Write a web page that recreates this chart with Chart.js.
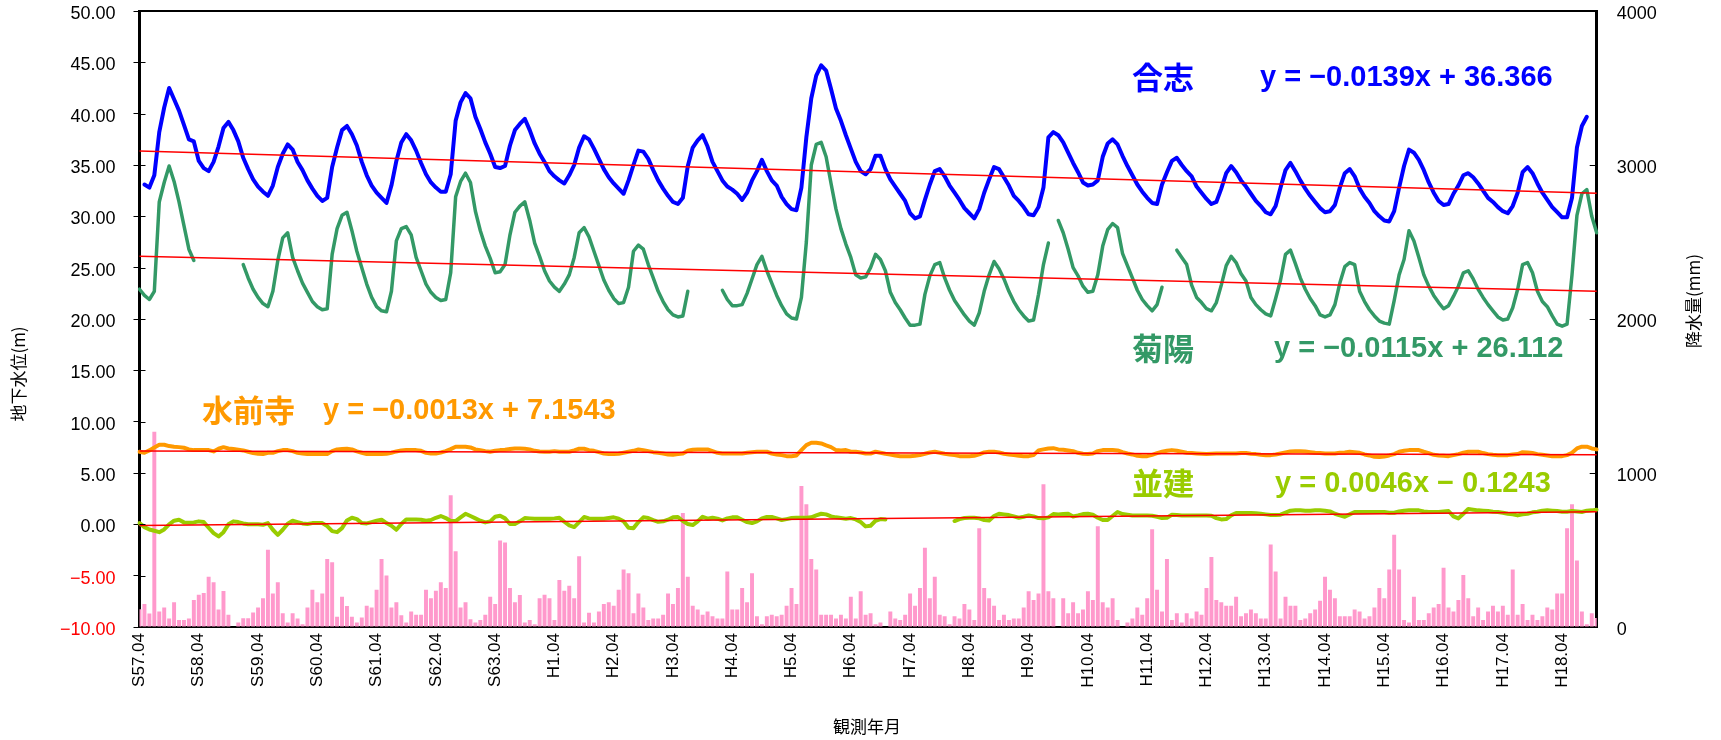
<!DOCTYPE html>
<html lang="ja">
<head>
<meta charset="utf-8">
<title>地下水位と降水量</title>
<script src="https://cdn.jsdelivr.net/npm/chart.js@4/dist/chart.umd.min.js"></script>
<style>
  html, body { margin: 0; padding: 0; background: #fff; }
  #graph { display: block; }
</style>
</head>
<body>
<canvas id="graph" width="1721" height="740"></canvas>
<script>
// 目盛ラベル（毎年4月）
const tickLabels = [
  "S57.04", "S58.04", "S59.04", "S60.04", "S61.04", "S62.04", "S63.04",
  "H1.04", "H2.04", "H3.04", "H4.04", "H5.04", "H6.04", "H7.04", "H8.04",
  "H9.04", "H10.04", "H11.04", "H12.04", "H13.04", "H14.04", "H15.04",
  "H16.04", "H17.04", "H18.04"
];

// 合志（m）
const gosi = [
  null,
  33.1, 32.8, 34.0, 38.2, 40.6, 42.5, 41.4, 40.3, 38.9, 37.5,
  37.3, 35.4, 34.7, 34.4, 35.3, 36.8, 38.6, 39.2, 38.4, 37.3,
  35.7, 34.6, 33.6, 32.9, 32.4, 32.0, 33.0, 34.8, 36.1, 37.0,
  36.5, 35.3, 34.5, 33.5, 32.7, 32.0, 31.5, 31.8, 34.8, 36.7,
  38.4, 38.8, 38.0, 36.9, 35.3, 34.0, 33.0, 32.3, 31.8, 31.3,
  33.0, 35.4, 37.2, 38.0, 37.4, 36.4, 35.2, 34.1, 33.3, 32.8,
  32.4, 32.4, 34.1, 39.3, 41.1, 42.0, 41.5, 39.7, 38.5, 37.2,
  36.1, 34.8, 34.7, 34.9, 36.9, 38.4, 39.0, 39.5, 38.4, 37.1,
  36.1, 35.3, 34.4, 33.9, 33.5, 33.2, 34.0, 35.0, 36.7, 37.8,
  37.5, 36.6, 35.6, 34.6, 33.8, 33.2, 32.7, 32.2, 33.5, 35.0,
  36.4, 36.3, 35.6, 34.5, 33.5, 32.7, 32.0, 31.4, 31.2, 31.8,
  34.9, 36.7, 37.4, 37.9, 36.8, 35.3, 34.4, 33.5, 32.9, 32.6,
  32.2, 31.6, 32.3, 33.5, 34.4, 35.5, 34.4, 33.5, 33.0, 31.9,
  31.2, 30.7, 30.6, 32.8, 37.7, 41.5, 43.7, 44.7, 44.2, 42.4,
  40.5, 39.3, 37.9, 36.6, 35.3, 34.4, 34.1, 34.6, 35.9, 35.9,
  34.6, 33.6, 32.9, 32.2, 31.5, 30.3, 29.8, 30.0, 31.6, 33.1,
  34.4, 34.6, 33.9, 33.0, 32.3, 31.6, 30.8, 30.3, 29.8, 30.7,
  32.3, 33.6, 34.8, 34.6, 33.8, 33.0, 32.0, 31.5, 30.9, 30.2,
  30.1, 30.9, 32.8, 37.7, 38.2, 37.9, 37.2, 36.2, 35.2, 34.3,
  33.3, 33.0, 33.1, 33.5, 35.8, 37.1, 37.5, 37.0, 35.9, 34.9,
  34.0, 33.1, 32.4, 31.8, 31.3, 31.2, 33.1, 34.3, 35.4, 35.7,
  35.0, 34.4, 33.9, 32.9, 32.3, 31.7, 31.2, 31.4, 32.7, 34.2,
  34.9, 34.3, 33.5, 32.9, 32.2, 31.5, 31.0, 30.4, 30.2, 31.0,
  32.8, 34.5, 35.2, 34.4, 33.5, 32.7, 32.0, 31.4, 30.8, 30.4,
  30.5, 31.1, 32.8, 34.2, 34.6, 33.9, 32.7, 31.9, 31.3, 30.5,
  30.0, 29.6, 29.5, 30.5, 32.8, 34.9, 36.5, 36.2, 35.5, 34.5,
  33.3, 32.3, 31.5, 31.1, 31.2, 32.2, 33.0, 34.0, 34.2, 33.8,
  33.2, 32.5, 31.8, 31.4, 30.9, 30.5, 30.3, 31.0, 32.3, 34.3,
  34.8, 34.2, 33.2, 32.3, 31.6, 30.9, 30.4, 29.9, 29.9, 31.8,
  36.7, 38.8, 39.7,
  null, null
];

// 菊陽（m）
const kikuyo = [
  22.9, 22.3, 21.9, 22.7, 31.4, 33.3, 34.9, 33.4, 31.4, 29.1,
  26.8, 25.7,
  null, null, null, null, null, null, null, null, null,
  25.3, 24.0, 22.9, 22.1, 21.5, 21.2, 22.7, 25.7, 27.9, 28.4,
  26.0, 24.7, 23.5, 22.6, 21.7, 21.2, 20.9, 21.0, 26.3, 28.8,
  30.1, 30.4, 28.6, 26.6, 25.0, 23.4, 22.1, 21.2, 20.8, 20.7,
  22.7, 27.6, 28.8, 29.0, 28.2, 26.0, 24.7, 23.4, 22.6, 22.1,
  21.8, 21.9, 24.5, 31.9, 33.4, 34.2, 33.3, 30.5, 28.6, 27.1,
  25.9, 24.5, 24.6, 25.3, 28.2, 30.4, 31.0, 31.4, 29.6, 27.4,
  26.1, 24.7, 23.7, 23.1, 22.7, 23.4, 24.3, 26.0, 28.4, 28.9,
  28.0, 26.6, 25.2, 23.8, 22.8, 22.0, 21.5, 21.6, 23.1, 26.6,
  27.2, 26.8, 25.3, 24.0, 22.7, 21.7, 20.9, 20.4, 20.2, 20.3, 22.7,
  null, null, null, null, null, null,
  22.8, 21.9, 21.3, 21.3, 21.4, 22.5, 23.9, 25.3, 26.1, 24.7,
  23.5, 22.3, 21.3, 20.5, 20.1, 20.0, 22.1, 27.5, 35.0, 37.0,
  37.2, 35.8, 33.2, 30.7, 28.8, 27.3, 26.0, 24.3, 24.0, 24.1,
  25.0, 26.3, 25.8, 24.7, 22.6, 21.6, 20.9, 20.1, 19.4, 19.4,
  19.5, 22.4, 24.2, 25.3, 25.5, 24.0, 22.8, 21.8, 21.1, 20.4,
  19.8, 19.4, 20.6, 22.7, 24.3, 25.6, 24.9, 23.9, 22.7, 21.7,
  20.9, 20.3, 19.8, 19.9, 22.4, 25.3, 27.4,
  null,
  29.6, 28.4, 26.8, 25.0, 24.2, 23.2, 22.6, 22.7, 24.3, 27.1,
  28.7, 29.3, 28.9, 26.4, 25.2, 24.0, 22.8, 21.9, 21.3, 20.8,
  21.4, 23.1,
  null, null,
  26.7, 26.0, 25.3, 23.3, 22.1, 21.6, 21.0, 20.8, 21.6, 23.3,
  25.2, 26.1, 25.5, 24.4, 23.7, 22.1, 21.4, 20.9, 20.5, 20.3,
  22.0, 23.8, 26.3, 26.7, 25.4, 24.0, 22.9, 22.0, 21.3, 20.4,
  20.2, 20.4, 21.4, 23.5, 25.1, 25.5, 25.3, 22.7, 21.7, 20.9,
  20.3, 19.8, 19.6, 19.5, 21.8, 24.3, 25.8, 28.6, 27.6, 26.0,
  24.3, 23.2, 22.3, 21.6, 21.0, 21.3, 22.2, 23.2, 24.5, 24.7,
  23.9, 22.9, 22.1, 21.4, 20.8, 20.2, 19.9, 20.0, 21.1, 22.9,
  25.3, 25.5, 24.5, 22.7, 21.7, 21.2, 20.3, 19.5, 19.3, 19.5,
  24.3, 30.1, 32.2, 32.6, 30.0, 28.4
];

// 水前寺（m）
const suizenji = [
  7.07, 6.97, 7.2, 7.49, 7.75, 7.75, 7.62, 7.56, 7.52, 7.46,
  7.3, 7.23, 7.23, 7.23, 7.23, 7.1, 7.36, 7.52, 7.39, 7.33,
  7.26, 7.2, 7.07, 6.94, 6.87, 6.84, 6.97, 6.97, 7.13, 7.23,
  7.23, 7.13, 6.97, 6.9, 6.84, 6.84, 6.84, 6.84, 6.84, 7.13,
  7.3, 7.33, 7.36, 7.3, 7.1, 6.97, 6.84, 6.84, 6.84, 6.84,
  6.87, 6.97, 7.1, 7.2, 7.23, 7.23, 7.23, 7.16, 6.97, 6.9,
  6.9, 7.0, 7.13, 7.33, 7.56, 7.56, 7.56, 7.49, 7.3, 7.23,
  7.13, 7.07, 7.16, 7.23, 7.26, 7.33, 7.39, 7.39, 7.36, 7.3,
  7.16, 7.1, 7.07, 7.07, 7.13, 7.07, 7.07, 7.07, 7.2, 7.36,
  7.36, 7.23, 7.16, 7.03, 6.9, 6.84, 6.84, 6.87, 6.97, 7.07,
  7.16, 7.3, 7.23, 7.13, 7.03, 6.97, 6.9, 6.81, 6.77, 6.84,
  6.9, 7.16, 7.26, 7.3, 7.3, 7.3, 7.13, 6.97, 6.9, 6.9,
  6.9, 6.9, 6.9, 6.97, 7.03, 7.07, 7.07, 7.07, 6.9, 6.81,
  6.74, 6.64, 6.64, 6.71, 7.23, 7.72, 7.95, 7.95, 7.88, 7.69,
  7.52, 7.23, 7.2, 7.23, 7.07, 7.07, 7.0, 6.9, 6.9, 7.07,
  6.97, 6.87, 6.81, 6.71, 6.64, 6.64, 6.64, 6.68, 6.74, 6.87,
  7.0, 7.07, 6.97, 6.87, 6.81, 6.74, 6.64, 6.64, 6.64, 6.68,
  6.81, 7.0, 7.07, 7.07, 7.0, 6.87, 6.81, 6.74, 6.68, 6.64,
  6.64, 6.74, 7.2, 7.3, 7.39, 7.42, 7.3, 7.26, 7.2, 7.13,
  6.97, 6.87, 6.84, 6.9, 7.13, 7.23, 7.23, 7.23, 7.2, 7.03,
  6.9, 6.81, 6.68, 6.64, 6.64, 6.77, 6.94, 7.07, 7.16, 7.23,
  7.16, 7.07, 6.97, 6.94, 6.9, 6.87, 6.84, 6.87, 6.9, 6.9,
  6.9, 6.9, 6.9, 6.94, 6.94, 6.87, 6.84, 6.77, 6.74, 6.74,
  6.81, 6.9, 7.0, 7.1, 7.13, 7.13, 7.1, 7.03, 6.97, 6.94,
  6.9, 6.9, 6.9, 6.97, 7.0, 7.07, 7.03, 6.97, 6.81, 6.71,
  6.58, 6.55, 6.61, 6.71, 6.84, 7.07, 7.16, 7.23, 7.23, 7.23,
  7.07, 6.94, 6.77, 6.71, 6.68, 6.64, 6.74, 6.84, 6.97, 7.07,
  7.07, 7.07, 6.94, 6.84, 6.77, 6.74, 6.74, 6.74, 6.81, 6.84,
  7.03, 7.0, 6.94, 6.84, 6.77, 6.71, 6.64, 6.64, 6.64, 6.74,
  6.97, 7.39, 7.56, 7.56, 7.39, 7.3
];

// 並建（m）
const namitate = [
  0.12, -0.27, -0.5, -0.63, -0.76, -0.5, 0.0, 0.35, 0.45, 0.19,
  0.16, 0.19, 0.29, 0.22, -0.33, -0.86, -1.18, -0.76, 0.0, 0.29,
  0.22, 0.09, 0.0, 0.0, 0.0, -0.04, 0.12, -0.53, -1.02, -0.53,
  0.06, 0.35, 0.22, 0.09, 0.03, 0.12, 0.12, 0.12, -0.17, -0.66,
  -0.76, -0.37, 0.38, 0.64, 0.51, 0.12, 0.09, 0.22, 0.35, 0.45,
  0.12, -0.14, -0.53, 0.03, 0.48, 0.48, 0.48, 0.45, 0.35, 0.42,
  0.64, 0.81, 0.61, 0.32, 0.32, 0.68, 1.03, 0.81, 0.58, 0.35,
  0.19, 0.29, 0.74, 0.84, 0.58, 0.03, 0.03, 0.29, 0.61, 0.58,
  0.55, 0.55, 0.55, 0.55, 0.58, 0.64, 0.25, -0.11, -0.27, 0.22,
  0.71, 0.58, 0.55, 0.55, 0.55, 0.61, 0.68, 0.55, 0.29, -0.33,
  -0.37, 0.22, 0.68, 0.61, 0.42, 0.25, 0.29, 0.45, 0.68, 0.71,
  0.32, 0.03, -0.07, 0.29, 0.74, 0.55, 0.64, 0.55, 0.38, 0.58,
  0.68, 0.68, 0.45, 0.22, 0.12, 0.29, 0.58, 0.71, 0.71, 0.58,
  0.42, 0.51, 0.61, 0.64, 0.64, 0.64, 0.68, 0.87, 1.03, 0.97,
  0.77, 0.68, 0.61, 0.55, 0.61, 0.48, 0.22, -0.2, -0.14, 0.35,
  0.51, 0.48,
  null, null, null, null, null, null, null, null, null, null, null, null, null,
  0.32, 0.51, 0.61, 0.64, 0.64, 0.58, 0.42, 0.38, 0.81, 1.03,
  0.97, 0.9, 0.77, 0.64, 0.74, 0.87, 0.77, 0.61, 0.58, 0.68,
  1.0, 0.97, 1.0, 1.03, 0.77, 0.87, 1.0, 1.03, 0.94, 0.64,
  0.42, 0.42, 0.81, 1.2, 1.0, 0.94, 0.87, 0.87, 0.87, 0.87,
  0.84, 0.74, 0.61, 0.64, 0.94, 0.9, 0.87, 0.87, 0.87, 0.87,
  0.87, 0.87, 0.84, 0.61, 0.48, 0.51, 0.87, 1.1, 1.1, 1.1,
  1.1, 1.07, 1.03, 0.97, 0.9, 0.9, 0.94, 1.13, 1.33, 1.36,
  1.36, 1.33, 1.33, 1.36, 1.36, 1.33, 1.26, 1.03, 0.87, 0.74,
  0.97, 1.2, 1.2, 1.2, 1.2, 1.2, 1.2, 1.2, 1.13, 1.13,
  1.26, 1.33, 1.36, 1.36, 1.36, 1.26, 1.2, 1.2, 1.2, 1.26,
  1.3, 0.78, 0.58, 1.03, 1.49, 1.43, 1.36, 1.33, 1.3, 1.23,
  1.2, 1.13, 1.03, 0.97, 0.87, 0.97, 1.03, 1.17, 1.23, 1.33,
  1.36, 1.33, 1.3, 1.23, 1.23, 1.3, 1.26, 1.2, 1.33, 1.36, 1.43
];

// 降水量（mm）
const rain = [
  116, 149, 88, 1268, 101, 127, 55, 160, 45, 45,
  55, 175, 210, 221, 327, 290, 114, 234, 80, 0,
  30, 57, 57, 94, 127, 186, 501, 218, 290, 90,
  30, 90, 55, 18, 127, 242, 160, 218, 442, 421,
  66, 197, 136, 66, 30, 62, 138, 127, 242, 442,
  334, 127, 160, 77, 30, 101, 80, 80, 242, 186,
  236, 290, 253, 855, 492, 127, 160, 51, 30, 45,
  80, 197, 149, 562, 549, 253, 160, 208, 30, 45,
  18, 186, 210, 186, 45, 305, 236, 268, 186, 460,
  30, 92, 30, 101, 149, 160, 138, 242, 373, 349,
  90, 218, 127, 45, 55, 55, 80, 218, 149, 253,
  740, 327, 138, 114, 80, 101, 69, 55, 55, 360,
  114, 114, 253, 160, 349, 69, 18, 69, 80, 69,
  80, 138, 253, 149, 916, 797, 442, 373, 80, 80,
  80, 55, 80, 55, 197, 55, 232, 80, 90, 18,
  30, 0, 101, 55, 45, 80, 218, 138, 253, 514,
  186, 327, 80, 69, 18, 69, 55, 149, 114, 45,
  642, 253, 186, 138, 45, 80, 45, 55, 55, 127,
  232, 175, 218, 927, 232, 186, 0, 186, 90, 160,
  90, 114, 232, 175, 655, 160, 127, 186, 45, 0,
  30, 55, 127, 80, 186, 634, 242, 101, 442, 45,
  90, 30, 90, 55, 101, 80, 253, 455, 175, 160,
  138, 138, 197, 69, 90, 114, 90, 55, 55, 536,
  360, 55, 197, 138, 138, 45, 55, 90, 114, 171,
  327, 242, 186, 69, 69, 69, 114, 101, 55, 69,
  127, 253, 186, 373, 599, 373, 45, 30, 197, 45,
  45, 90, 127, 149, 384, 127, 101, 175, 338, 186,
  69, 127, 45, 101, 138, 101, 138, 80, 373, 80,
  149, 45, 80, 45, 69, 127, 114, 218, 218, 642,
  797, 432, 101, 18, 90, 58
];

// 近似直線 y = ax + b（x は1始まりの月番号）
const trendSlope = [-0.0139, -0.0115, -0.0013, 0.0046];
const trendIntercept = [36.366, 26.112, 7.1543, -0.1243];

const N = rain.length;

// 観測年月（S57.04 から1か月ごと）
const months = Array.from({ length: N }, (_, i) => {
  const m = 3 + i;
  const y = 57 + Math.floor(m / 12);
  const mm = String((m % 12) + 1).padStart(2, "0");
  return y < 64 ? `S${y}.${mm}` : `H${y - 63}.${mm}`;
});

// 近似直線は両端の2点だけ置いて結ぶ
function trend(k) {
  return months.map((_, i) =>
    i === 0 || i === N - 1 ? trendIntercept[k] + trendSlope[k] * (i + 1) : null
  );
}

const minus = (s) => s.replace("-", "\u2212");

const COLORS = {
  gosi: "#0000ff",
  kikuyo: "#339966",
  suizenji: "#ff9900",
  namitate: "#99cc00",
  rain: "#ff99cc",
  trend: "#ff0000",
};

function lineSet(label, values, color, width) {
  return {
    type: "line",
    label: label,
    data: values,
    borderColor: color,
    backgroundColor: color,
    borderWidth: width,
    pointRadius: 0,
    tension: 0,
    spanGaps: false,
    borderJoinStyle: "round",
    borderCapStyle: "round",
    yAxisID: "y",
    order: 1,
  };
}

function trendSet(k) {
  return {
    type: "line",
    label: "近似" + k,
    data: trend(k),
    borderColor: COLORS.trend,
    borderWidth: 1.5,
    pointRadius: 0,
    spanGaps: true,
    yAxisID: "y",
    order: 0,
  };
}

// 系列名と近似式
const notes = [
  { text: "合志", x: 1132, y: 77, color: COLORS.gosi, cjk: true },
  { text: minus("y = -0.0139x + 36.366"), x: 1260, y: 78, color: COLORS.gosi },
  { text: "菊陽", x: 1132, y: 348, color: COLORS.kikuyo, cjk: true },
  { text: minus("y = -0.0115x + 26.112"), x: 1274, y: 349, color: COLORS.kikuyo },
  { text: "水前寺", x: 202, y: 410, color: COLORS.suizenji, cjk: true },
  { text: minus("y = -0.0013x + 7.1543"), x: 323, y: 411, color: COLORS.suizenji },
  { text: "並建", x: 1132, y: 483, color: COLORS.namitate, cjk: true },
  { text: minus("y = 0.0046x - 0.1243"), x: 1275, y: 484, color: COLORS.namitate },
];

const decorations = {
  id: "decorations",
  afterDraw(chart) {
    const { ctx, chartArea: a, scales } = chart;
    ctx.save();

    // 上枠
    ctx.strokeStyle = "#000";
    ctx.lineWidth = 2;
    ctx.beginPath();
    ctx.moveTo(a.left - 1, a.top);
    ctx.lineTo(a.right + 1, a.top);
    ctx.stroke();

    // 内向きの目盛
    ctx.lineWidth = 1;
    ctx.beginPath();
    scales.y.ticks.forEach((t) => {
      const y = Math.round(scales.y.getPixelForValue(t.value)) + 0.5;
      ctx.moveTo(a.left, y);
      ctx.lineTo(a.left + 6, y);
    });
    scales.y2.ticks.forEach((t) => {
      const y = Math.round(scales.y2.getPixelForValue(t.value)) + 0.5;
      ctx.moveTo(a.right - 7, y);
      ctx.lineTo(a.right, y);
    });
    ctx.stroke();

    // 系列名・近似式
    ctx.textBaseline = "middle";
    ctx.textAlign = "left";
    notes.forEach((n) => {
      ctx.fillStyle = n.color;
      ctx.font = n.cjk
        ? 'bold 31px "Noto Sans CJK JP", sans-serif'
        : 'bold 29px "Liberation Sans", Arial, sans-serif';
      ctx.fillText(n.text, n.x, n.y);
    });

    // 軸タイトル
    ctx.fillStyle = "#000";
    ctx.font = '17px "Noto Sans CJK JP", sans-serif';
    ctx.textAlign = "center";
    ctx.save();
    ctx.translate(19, 374);
    ctx.rotate(-Math.PI / 2);
    ctx.fillText("地下水位(m)", 0, 0);
    ctx.restore();
    ctx.save();
    ctx.translate(1694, 301);
    ctx.rotate(-Math.PI / 2);
    ctx.fillText("降水量(mm)", 0, 0);
    ctx.restore();
    ctx.fillText("観測年月", 867, 727);

    ctx.restore();
  },
};

// 軸の外側余白を消してプロット領域を固定する
function noPad(s) {
  s.paddingTop = 0;
  s.paddingBottom = 0;
  s.paddingLeft = 0;
  s.paddingRight = 0;
}

Chart.defaults.font.family = '"Liberation Sans", Arial, sans-serif';
Chart.defaults.color = "#000";

const config = {
  data: {
    labels: months,
    datasets: [
      trendSet(0),
      trendSet(1),
      trendSet(2),
      trendSet(3),
      lineSet("合志", gosi, COLORS.gosi, 4),
      lineSet("菊陽", kikuyo, COLORS.kikuyo, 3.5),
      lineSet("水前寺", suizenji, COLORS.suizenji, 4),
      lineSet("並建", namitate, COLORS.namitate, 4),
      {
        type: "bar",
        label: "降水量",
        data: rain,
        backgroundColor: COLORS.rain,
        borderWidth: 0,
        barPercentage: 1,
        categoryPercentage: 0.8,
        yAxisID: "y2",
        order: 2,
      },
    ],
  },
  options: {
    responsive: false,
    devicePixelRatio: 1,
    animation: false,
    layout: { padding: { top: 11, left: 0, right: 0, bottom: 0 } },
    plugins: {
      legend: { display: false },
      tooltip: { enabled: false },
    },
    scales: {
      x: {
        type: "category",
        offset: false,
        grid: { display: false, drawTicks: false },
        border: { display: true, color: "#000", width: 2 },
        ticks: {
          autoSkip: false,
          maxRotation: 90,
          minRotation: 90,
          padding: 6,
          font: { size: 17 },
          callback: (v, i) => (i % 12 === 0 ? tickLabels[i / 12] : ""),
        },
        afterFit: (s) => { noPad(s); s.height = 113; },
      },
      y: {
        position: "left",
        min: -10,
        max: 50,
        ticks: {
          stepSize: 5,
          padding: 18,
          labelOffset: 3,
          font: { size: 18 },
          color: (c) => (c.tick.value < 0 ? "#ff0000" : "#000000"),
          callback: (v) => minus(Number(v).toFixed(2)),
        },
        grid: { drawOnChartArea: false, tickLength: 6, tickColor: "#000", tickWidth: 1 },
        border: { color: "#000", width: 3 },
        afterFit: (s) => { noPad(s); s.width = 139.5; },
      },
      y2: {
        position: "right",
        min: 0,
        max: 4000,
        ticks: {
          stepSize: 1000,
          padding: 20,
          labelOffset: 3,
          font: { size: 18 },
          callback: (v) => String(v),
        },
        grid: { drawOnChartArea: false, drawTicks: false },
        border: { color: "#000", width: 3 },
        afterFit: (s) => { noPad(s); s.width = 124.3; },
      },
    },
  },
  plugins: [decorations],
};

let myChart = new Chart(document.getElementById("graph"), config);
</script>
</body>
</html>
